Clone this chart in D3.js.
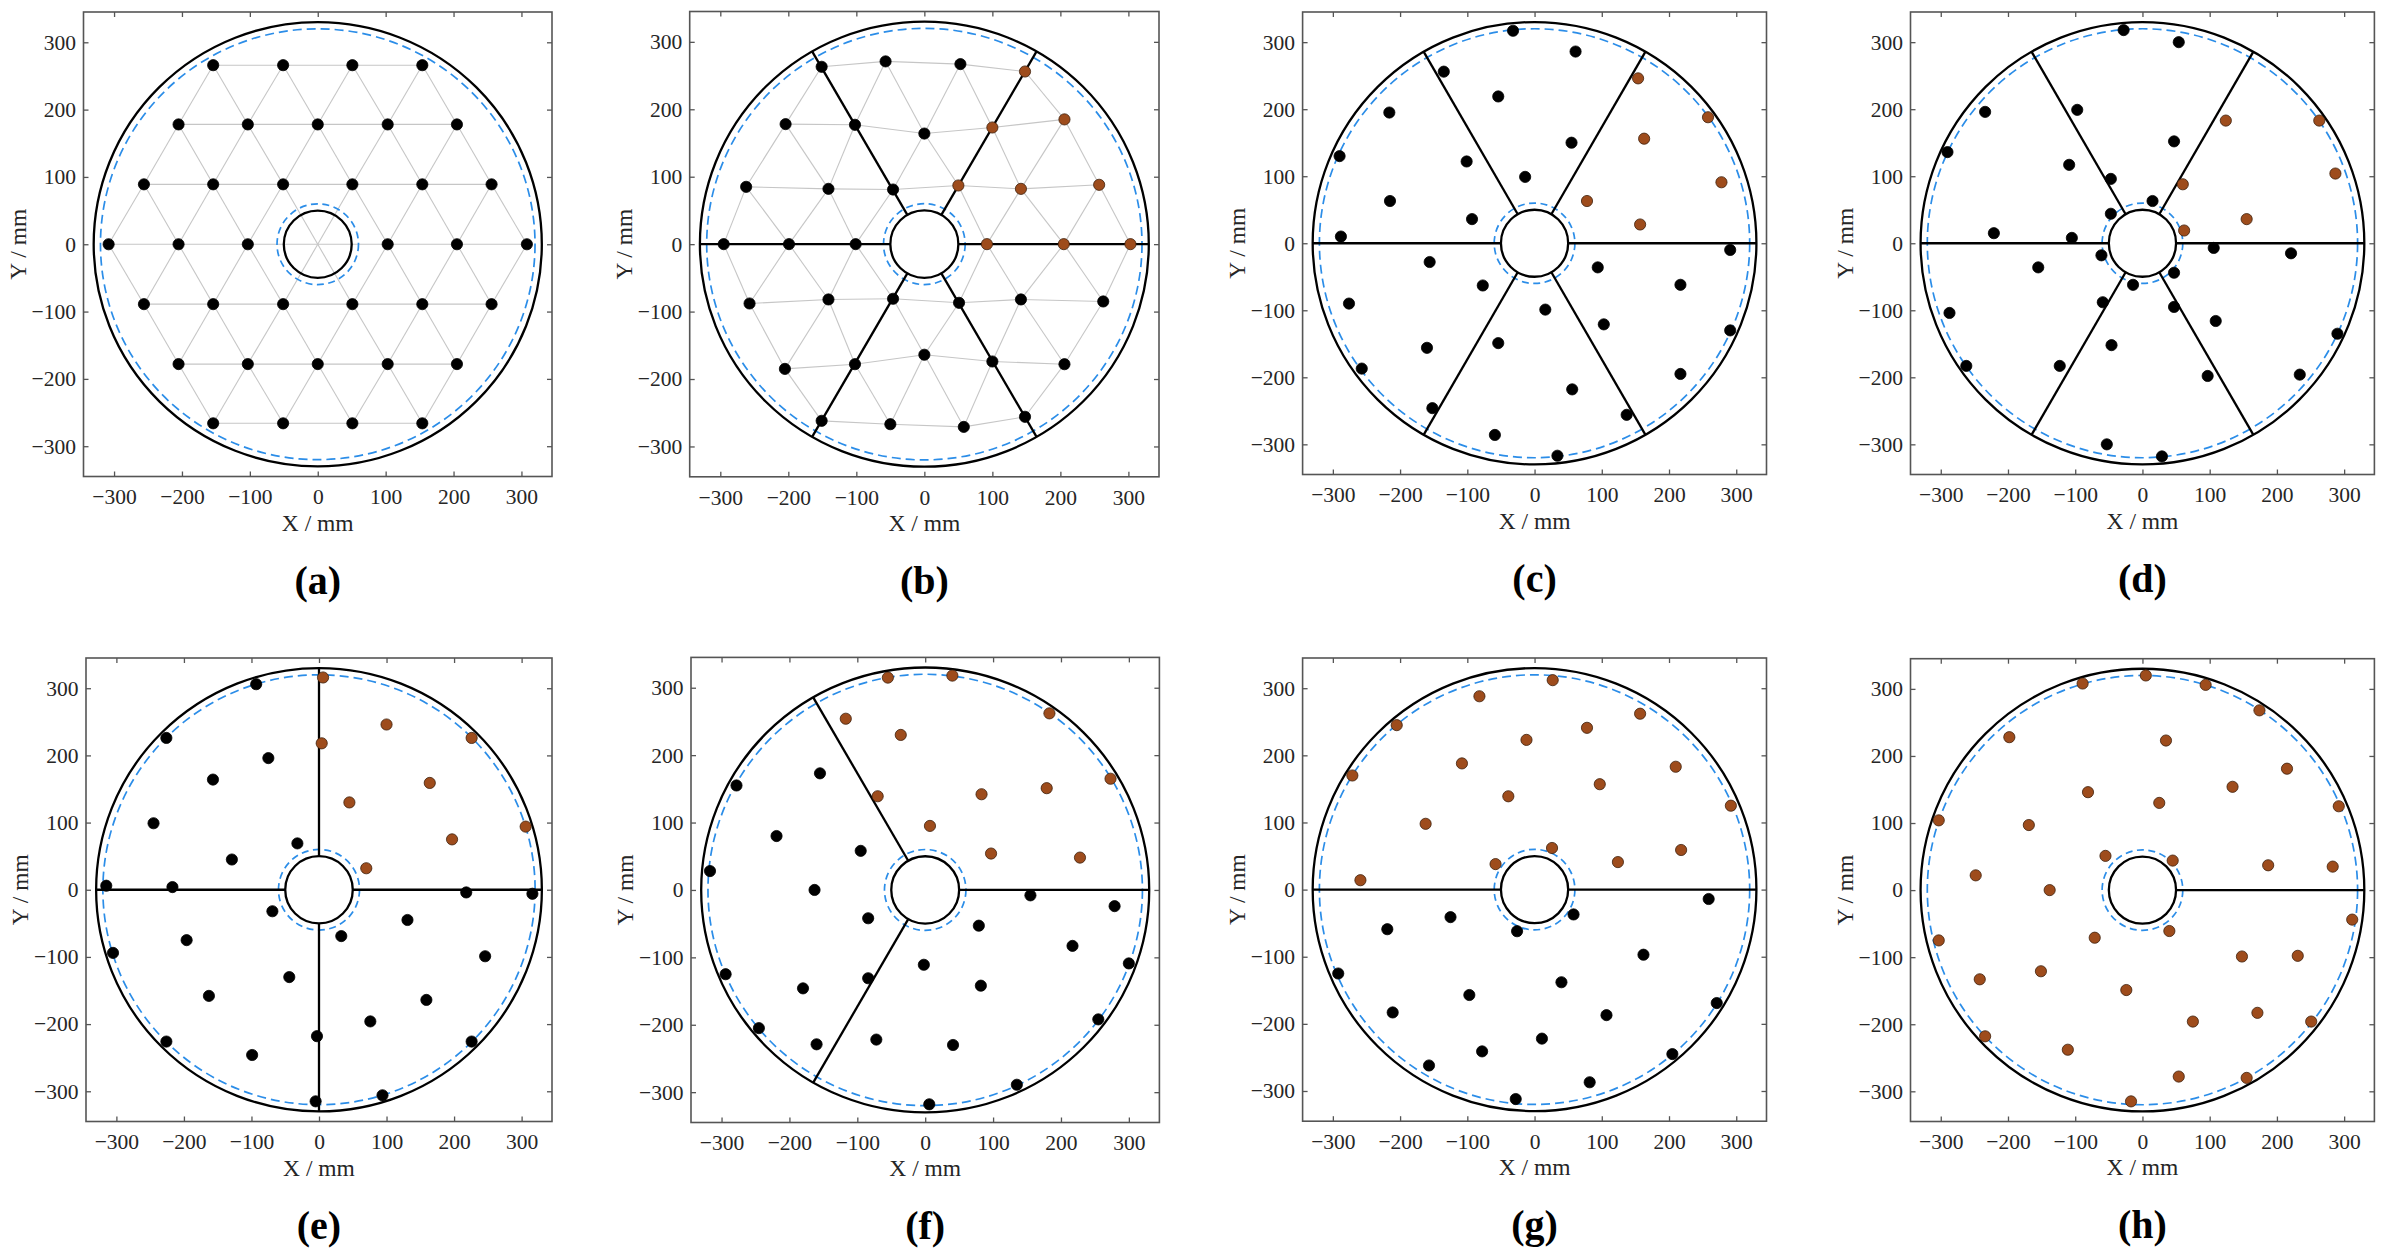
<!DOCTYPE html>
<html><head><meta charset="utf-8">
<script src="https://cdn.jsdelivr.net/npm/d3@7"></script>
<style>body{margin:0;background:#fff}</style></head>
<body>
<svg id="chart" width="2386" height="1256"></svg>
<script>
// ---------------- data ----------------
const panelLabels = ["(a)","(b)","(c)","(d)","(e)","(f)","(g)","(h)"];
const tickValues = [-300,-200,-100,0,100,200,300];
const axisDomain = [-345, 345];
const outerR = 330, outerDashR = 320, innerR = 50, innerDashR = 60;
const xLabel = "X / mm", yLabel = "Y / mm";

// (a) regular triangular lattice (hidden centre node listed separately)
const latticeCentre = [0, 0];
const pointsA = [
  [-154,266],[-51,266],[51,266],[154,266],
  [-205,178],[-103,178],[0,178],[103,178],[205,178],
  [-256,89],[-154,89],[-51,89],[51,89],[154,89],[256,89],
  [-308,0],[-205,0],[-103,0],[103,0],[205,0],[308,0],
  [-256,-89],[-154,-89],[-51,-89],[51,-89],[154,-89],[256,-89],
  [-205,-178],[-103,-178],[0,-178],[103,-178],[205,-178],
  [-154,-266],[-51,-266],[51,-266],[154,-266]
];
// (b) perturbed lattice, same node order as (a); third value 1 = brown group
const pointsB = [
  [-151,263,0],[-57,271,0],[53,267,0],[148,256,1],
  [-204,178,0],[-102,177,0],[0,164,0],[100,173,1],[206,185,1],
  [-262,85,0],[-141,82,0],[-46,81,0],[50,87,1],[142,82,1],[257,88,1],
  [-295,0,0],[-199,0,0],[-101,0,0],[92,0,1],[205,0,1],[303,0,1],
  [-257,-88,0],[-141,-82,0],[-46,-81,0],[51,-87,0],[142,-82,0],[263,-85,0],
  [-205,-185,0],[-102,-178,0],[0,-164,0],[100,-174,0],[206,-178,0],
  [-151,-262,0],[-50,-267,0],[58,-271,0],[148,-256,0]
];
const pointsC = [
  [-32,317,0],[61,286,0],[-135,256,0],[-54,219,0],[55,150,0],[-14,99,0],
  [-216,195,0],[-290,130,0],[-101,122,0],[-215,63,0],[-93,36,0],[-288,10,0],
  [-156,-28,0],[-77,-63,0],[-276,-90,0],[16,-99,0],[94,-36,0],[103,-121,0],
  [217,-62,0],[291,-10,0],[291,-130,0],[217,-195,0],[-54,-149,0],[-160,-156,0],
  [-257,-187,0],[-152,-246,0],[56,-218,0],[137,-256,0],[-59,-286,0],[34,-317,0],
  [154,246,1],[258,188,1],[163,156,1],[278,91,1],[78,63,1],[157,28,1]
];
const pointsD = [
  [-28,318,0],[54,300,0],[-234,196,0],[-97,199,0],[-290,136,0],[47,152,0],
  [-109,117,0],[-47,96,0],[15,63,0],[-47,44,0],[-221,15,0],[-105,8,0],
  [-61,-18,0],[-155,-36,0],[106,-7,0],[221,-15,0],[47,-44,0],[-14,-62,0],
  [-59,-88,0],[47,-95,0],[109,-116,0],[-287,-104,0],[290,-135,0],[-46,-152,0],
  [-123,-183,0],[-262,-183,0],[97,-198,0],[234,-196,0],[-53,-300,0],[29,-318,0],
  [124,183,1],[263,183,1],[287,104,1],[60,88,1],[155,36,1],[62,19,1]
];
const pointsE = [
  [6,316,1],[100,246,1],[4,218,1],[226,226,1],[164,159,1],[45,130,1],
  [197,75,1],[306,94,1],[70,32,1],
  [-93,306,0],[-226,226,0],[-75,196,0],[-157,164,0],[-245,99,0],[-32,69,0],
  [-129,45,0],[-315,6,0],[-217,4,0],[-69,-32,0],[-305,-94,0],[-196,-75,0],
  [-44,-130,0],[-163,-158,0],[33,-69,0],[131,-45,0],[218,-4,0],[316,-6,0],
  [246,-99,0],[159,-164,0],[76,-196,0],[226,-226,0],[-3,-218,0],[-99,-246,0],
  [-226,-226,0],[94,-306,0],[-5,-315,0]
];
const pointsF = [
  [-55,315,1],[40,318,1],[-117,254,1],[-36,230,1],[183,262,1],[273,165,1],
  [179,151,1],[-70,139,1],[83,142,1],[7,95,1],[97,54,1],[228,48,1],
  [-278,155,0],[-155,173,0],[-219,80,0],[-317,28,0],[-95,58,0],[-163,0,0],
  [-84,-42,0],[155,-8,0],[279,-24,0],[79,-53,0],[217,-83,0],[-2,-111,0],
  [300,-109,0],[-294,-125,0],[-84,-131,0],[-180,-146,0],[82,-142,0],[-245,-205,0],
  [255,-192,0],[-160,-229,0],[-72,-222,0],[41,-230,0],[135,-289,0],[6,-318,0]
];
const pointsG = [
  [27,312,1],[-82,288,1],[-205,245,1],[157,262,1],[78,241,1],[-12,223,1],
  [-271,170,1],[-108,188,1],[210,183,1],[97,157,1],[-39,139,1],[-162,98,1],
  [292,125,1],[26,62,1],[218,59,1],[-58,38,1],[124,41,1],[-259,14,1],
  [259,-14,0],[58,-37,0],[-125,-41,0],[-219,-59,0],[-26,-62,0],[-292,-125,0],
  [162,-97,0],[40,-138,0],[-97,-157,0],[-211,-183,0],[107,-187,0],[271,-169,0],
  [11,-222,0],[-78,-241,0],[-157,-262,0],[205,-245,0],[82,-287,0],[-28,-312,0]
];
const pointsH = [
  [5,320,1],[-89,308,1],[94,306,1],[174,268,1],[-198,228,1],[35,223,1],
  [215,181,1],[134,154,1],[-81,146,1],[25,130,1],[-303,104,1],[-169,97,1],
  [292,125,1],[-55,51,1],[45,44,1],[-248,22,1],[187,37,1],[283,35,1],
  [-138,0,1],[312,-44,1],[40,-61,1],[-71,-71,1],[-303,-75,1],[148,-99,1],
  [231,-98,1],[-151,-121,1],[-242,-133,1],[-24,-149,1],[171,-183,1],[75,-196,1],
  [251,-196,1],[-234,-218,1],[-111,-238,1],[54,-278,1],[155,-280,1],[-17,-315,1]
];
const sectorAngles = [
  [], [0,60,120,180,240,300], [0,60,120,180,240,300], [0,60,120,180,240,300],
  [0,90,180,270], [0,120,240], [0,180], [0]
];

// ---------------- layout / style ----------------
const layout = [
  {l:83.5,  t:12,   r:552,    b:476.5},
  {l:689.7, t:11.5, r:1159,   b:476.8},
  {l:1302.6,t:12,   r:1766.5, b:474.5},
  {l:1910.5,t:12,   r:2374.4, b:474.5},
  {l:86,    t:658,  r:552,    b:1121.5},
  {l:691,   t:657.4,r:1159.4, b:1122.5},
  {l:1302.6,t:658,  r:1766.5, b:1121.2},
  {l:1910.5,t:658.7,r:2374.4, b:1121.5}
];
const BLACK = "#000", BROWN = "#9e4c1c", BROWN_EDGE = "#3d1f0b", BLUE = "#2b8de8";
const serif = "'Liberation Serif','Times New Roman',serif";
const markerR = 5.6;

const svg = d3.select("#chart");
const allPoints = [null, pointsB, pointsC, pointsD, pointsE, pointsF, pointsG, pointsH];

// lattice topology from (a) including hidden centre node (index 36)
const nodesA = pointsA.concat([latticeCentre]);
const edges = [];
for (let i = 0; i < nodesA.length; i++)
  for (let j = i + 1; j < nodesA.length; j++) {
    const dx = nodesA[i][0]-nodesA[j][0], dy = nodesA[i][1]-nodesA[j][1];
    if (Math.hypot(dx, dy) < 125) edges.push([i, j]);
  }
const centreIdx = pointsA.length;

layout.forEach((L, k) => {
  const w = L.r - L.l, h = L.b - L.t;
  const x = d3.scaleLinear().domain(axisDomain).range([0, w]);
  const y = d3.scaleLinear().domain(axisDomain).range([h, 0]);
  const g = svg.append("g").attr("transform", `translate(${L.l},${L.t})`);

  // lattice lines
  if (k === 0 || k === 1) {
    const nodes = k === 0 ? nodesA : pointsB;
    const es = k === 0 ? edges : edges.filter(e => e[0] !== centreIdx && e[1] !== centreIdx);
    g.append("g").selectAll("line").data(es).join("line")
      .attr("x1", e => x(nodes[e[0]][0])).attr("y1", e => y(nodes[e[0]][1]))
      .attr("x2", e => x(nodes[e[1]][0])).attr("y2", e => y(nodes[e[1]][1]))
      .attr("stroke", "#c6c6c6").attr("stroke-width", 1.1);
  }

  const ell = (R, stroke, dash, sw) => g.append("ellipse")
    .attr("cx", x(0)).attr("cy", y(0))
    .attr("rx", x(R) - x(0)).attr("ry", y(0) - y(R))
    .attr("fill", "none").attr("stroke", stroke).attr("stroke-width", sw)
    .attr("stroke-dasharray", dash);
  ell(outerR, BLACK, null, 2.3);
  ell(outerDashR, BLUE, "9,5", 1.7);
  ell(innerR, BLACK, null, 2.3);
  ell(innerDashR, BLUE, "7,4.5", 1.7);

  // sector lines
  g.append("g").selectAll("line").data(sectorAngles[k]).join("line")
    .attr("x1", a => x(innerR*Math.cos(a*Math.PI/180)))
    .attr("y1", a => y(innerR*Math.sin(a*Math.PI/180)))
    .attr("x2", a => x(outerR*Math.cos(a*Math.PI/180)))
    .attr("y2", a => y(outerR*Math.sin(a*Math.PI/180)))
    .attr("stroke", BLACK).attr("stroke-width", 2.3);

  // points
  const pts = k === 0 ? pointsA.map(p => [p[0], p[1], 0]) : allPoints[k];
  g.append("g").selectAll("circle").data(pts).join("circle")
    .attr("cx", p => x(p[0])).attr("cy", p => y(p[1])).attr("r", markerR)
    .attr("fill", p => p[2] ? BROWN : BLACK)
    .attr("stroke", p => p[2] ? BROWN_EDGE : BLACK).attr("stroke-width", 0.8);

  // axes (inward ticks, mirrored)
  const styleAxis = sel => {
    sel.select(".domain").remove();
    sel.selectAll(".tick line").attr("stroke", "#555").attr("stroke-width", 1.3);
    sel.selectAll(".tick text").attr("font-family", serif).attr("font-size", 21.5)
      .attr("fill", "#262626");
  };
  g.append("g").attr("transform", `translate(0,${h})`)
    .call(d3.axisBottom(x).tickValues(tickValues).tickSize(-5).tickPadding(12.5))
    .call(styleAxis);
  g.append("g")
    .call(d3.axisTop(x).tickValues(tickValues).tickSize(-5).tickFormat(""))
    .call(styleAxis);
  g.append("g")
    .call(d3.axisLeft(y).tickValues(tickValues).tickSize(-5).tickPadding(7.5))
    .call(styleAxis);
  g.append("g").attr("transform", `translate(${w},0)`)
    .call(d3.axisRight(y).tickValues(tickValues).tickSize(-5).tickFormat(""))
    .call(styleAxis);

  g.append("rect").attr("width", w).attr("height", h)
    .attr("fill", "none").attr("stroke", "#555").attr("stroke-width", 1.6);

  g.append("text").attr("x", w/2).attr("y", h + 54).attr("text-anchor", "middle")
    .attr("font-family", serif).attr("font-size", 23.5).attr("fill", "#262626").text(xLabel);
  g.append("text").attr("transform", `translate(-58,${h/2}) rotate(-90)`)
    .attr("text-anchor", "middle")
    .attr("font-family", serif).attr("font-size", 23.5).attr("fill", "#262626").text(yLabel);

  g.append("text").attr("x", w/2).attr("y", h + 117).attr("text-anchor", "middle")
    .attr("font-family", serif).attr("font-weight", "bold").attr("font-size", 40)
    .attr("fill", "#000").text(panelLabels[k]);
});
</script>
</body></html>
